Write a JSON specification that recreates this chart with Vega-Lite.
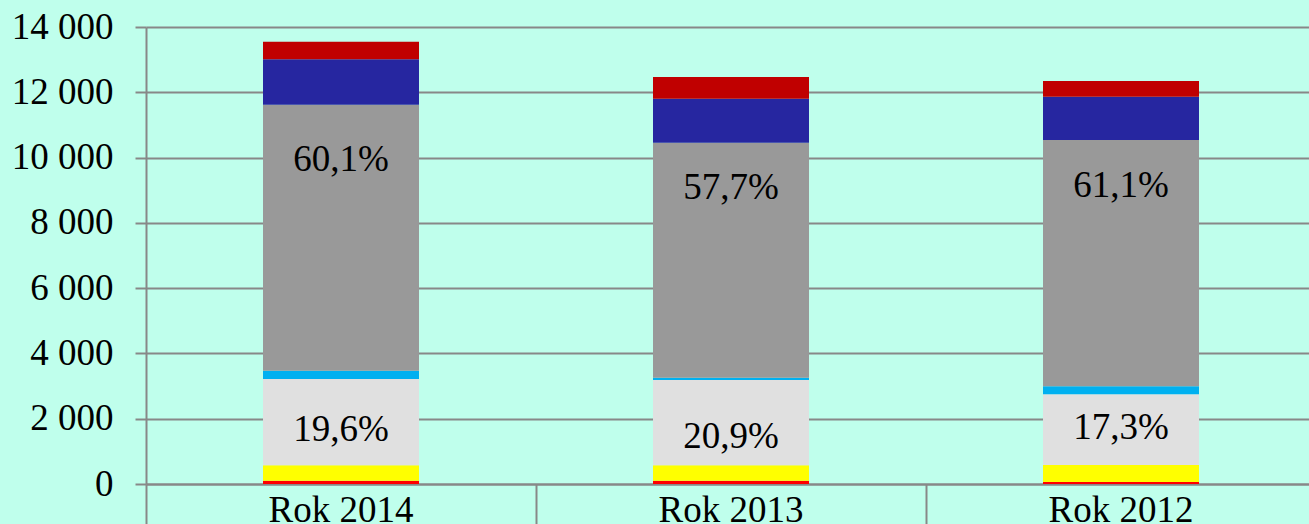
{
  "$schema": "https://vega.github.io/schema/vega-lite/v6.json",
  "autosize": {"type": "none"},
  "padding": {"left": 146, "top": 27, "right": 0, "bottom": 40},
  "width": 1170,
  "height": 457,
  "background": "#BFFFEC",
  "config": {
    "view": {"stroke": null},
    "font": "Liberation Serif",
    "axis": {"labelFont": "Liberation Serif", "labelFontSize": 37, "labelColor": "#000000", "domainColor": "#888888", "domainWidth": 2, "tickColor": "#888888", "tickWidth": 2, "gridColor": "#888888", "gridWidth": 2, "title": null}
  },
  "datasets": {
    "bars": [
      {"rok": "Rok 2014", "seria": "Seria 1", "wartosc": 100},
      {"rok": "Rok 2014", "seria": "Seria 2", "wartosc": 473},
      {"rok": "Rok 2014", "seria": "Seria 3", "wartosc": 2644},
      {"rok": "Rok 2014", "seria": "Seria 4", "wartosc": 254},
      {"rok": "Rok 2014", "seria": "Seria 5", "wartosc": 8149},
      {"rok": "Rok 2014", "seria": "Seria 6", "wartosc": 1391},
      {"rok": "Rok 2014", "seria": "Seria 7", "wartosc": 540},
      {"rok": "Rok 2013", "seria": "Seria 1", "wartosc": 100},
      {"rok": "Rok 2013", "seria": "Seria 2", "wartosc": 475},
      {"rok": "Rok 2013", "seria": "Seria 3", "wartosc": 2611},
      {"rok": "Rok 2013", "seria": "Seria 4", "wartosc": 71},
      {"rok": "Rok 2013", "seria": "Seria 5", "wartosc": 7200},
      {"rok": "Rok 2013", "seria": "Seria 6", "wartosc": 1347},
      {"rok": "Rok 2013", "seria": "Seria 7", "wartosc": 665},
      {"rok": "Rok 2012", "seria": "Seria 1", "wartosc": 60},
      {"rok": "Rok 2012", "seria": "Seria 2", "wartosc": 522},
      {"rok": "Rok 2012", "seria": "Seria 3", "wartosc": 2166},
      {"rok": "Rok 2012", "seria": "Seria 4", "wartosc": 245},
      {"rok": "Rok 2012", "seria": "Seria 5", "wartosc": 7546},
      {"rok": "Rok 2012", "seria": "Seria 6", "wartosc": 1327},
      {"rok": "Rok 2012", "seria": "Seria 7", "wartosc": 481}
    ],
    "etykiety": [
      {"rok": "Rok 2014", "tekst": "60,1%", "poziom": 9926},
      {"rok": "Rok 2013", "tekst": "57,7%", "poziom": 9069},
      {"rok": "Rok 2012", "tekst": "61,1%", "poziom": 9130},
      {"rok": "Rok 2014", "tekst": "19,6%", "poziom": 1654},
      {"rok": "Rok 2013", "tekst": "20,9%", "poziom": 1440},
      {"rok": "Rok 2012", "tekst": "17,3%", "poziom": 1716}
    ]
  },
  "layer": [
    {
      "data": {"name": "bars"},
      "mark": {"type": "bar", "width": {"band": 0.4}},
      "encoding": {
        "x": {
          "field": "rok", "type": "nominal", "sort": ["Rok 2014", "Rok 2013", "Rok 2012"],
          "scale": {"paddingInner": 0, "paddingOuter": 0},
          "axis": {"labelAngle": 0, "bandPosition": 0, "tickSize": 42, "labelPadding": -5, "labelBaseline": "alphabetic"}
        },
        "y": {
          "field": "wartosc", "type": "quantitative", "stack": "zero",
          "scale": {"domain": [0, 14000], "nice": false},
          "axis": {"values": [0, 2000, 4000, 6000, 8000, 10000, 12000, 14000], "tickSize": 11, "labelPadding": 22, "labelExpr": "replace(format(datum.value, ','), ',', ' ')", "grid": true}
        },
        "color": {
          "field": "seria", "type": "nominal", "legend": null,
          "scale": {"domain": ["Seria 1", "Seria 2", "Seria 3", "Seria 4", "Seria 5", "Seria 6", "Seria 7"], "range": ["#FF0000", "#FFFF00", "#E0E0E0", "#00B0F0", "#999999", "#2626A0", "#C00000"]}
        },
        "order": {"field": "seria", "sort": "ascending"}
      }
    },
    {
      "data": {"name": "etykiety"},
      "mark": {"type": "text", "fontSize": 37, "font": "Liberation Serif", "color": "#000000", "baseline": "middle", "align": "center"},
      "encoding": {
        "x": {"field": "rok", "type": "nominal", "sort": ["Rok 2014", "Rok 2013", "Rok 2012"]},
        "y": {"field": "poziom", "type": "quantitative"},
        "text": {"field": "tekst"}
      }
    }
  ]
}
